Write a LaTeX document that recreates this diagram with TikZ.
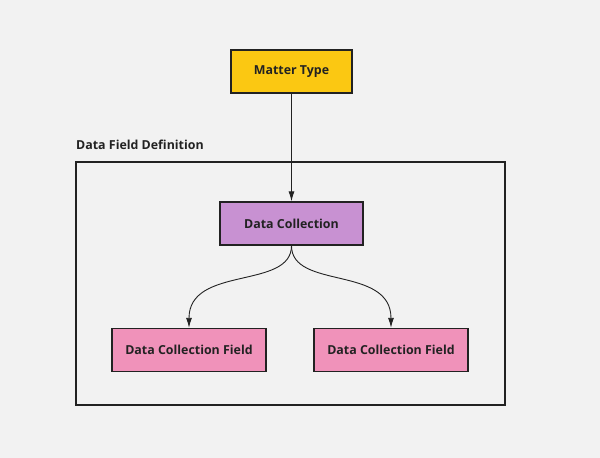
\documentclass[tikz,border=0pt]{standalone}
\usepackage{fontspec}
\setmainfont{Open Sans}
\usetikzlibrary{arrows.meta}
\definecolor{bg}{HTML}{F2F2F2}
\definecolor{ink}{HTML}{222222}
\definecolor{yel}{HTML}{FBC812}
\definecolor{pur}{HTML}{C891D2}
\definecolor{pnk}{HTML}{F092BA}
\begin{document}
\begin{tikzpicture}[x=1pt,y=-1pt,
  box/.style={draw=ink,line width=1.4pt,inner sep=0pt,font=\bfseries\fontsize{12.4}{14}\selectfont,text=ink},
  conn/.style={draw=ink,line width=0.9pt,-{Latex[length=10pt,width=6pt]}},
  lbl/.style={font=\bfseries\fontsize{12.4}{14}\selectfont,text=ink,inner sep=0pt,anchor=west}]
\fill[bg] (0,0) rectangle (600,458);
\useasboundingbox (0,0) rectangle (600,458);
\node[box,fill=yel,minimum width=121pt,minimum height=43pt] (mt) at (291.5,71.5) {Matter Type};
\node[draw=ink,line width=1.4pt,minimum width=429pt,minimum height=243pt,inner sep=0pt] (cont) at (290.5,283.5) {};
\node[lbl] (cl) at (76,145) {Data Field Definition};
\node[box,fill=pur,minimum width=143pt,minimum height=43pt] (dc) at (291.5,223.5) {Data Collection};
\node[box,fill=pnk,minimum width=154pt,minimum height=43pt] (f1) at (189,350) {Data Collection Field};
\node[box,fill=pnk,minimum width=154pt,minimum height=43pt] (f2) at (391,350) {Data Collection Field};
\draw[conn] (mt.south) -- (dc.north);
\draw[conn] (dc.south) .. controls (291.5,290) and (189,265) .. (f1.north);
\draw[conn] (dc.south) .. controls (291.5,290) and (391,265) .. (f2.north);
\end{tikzpicture}
\end{document}
